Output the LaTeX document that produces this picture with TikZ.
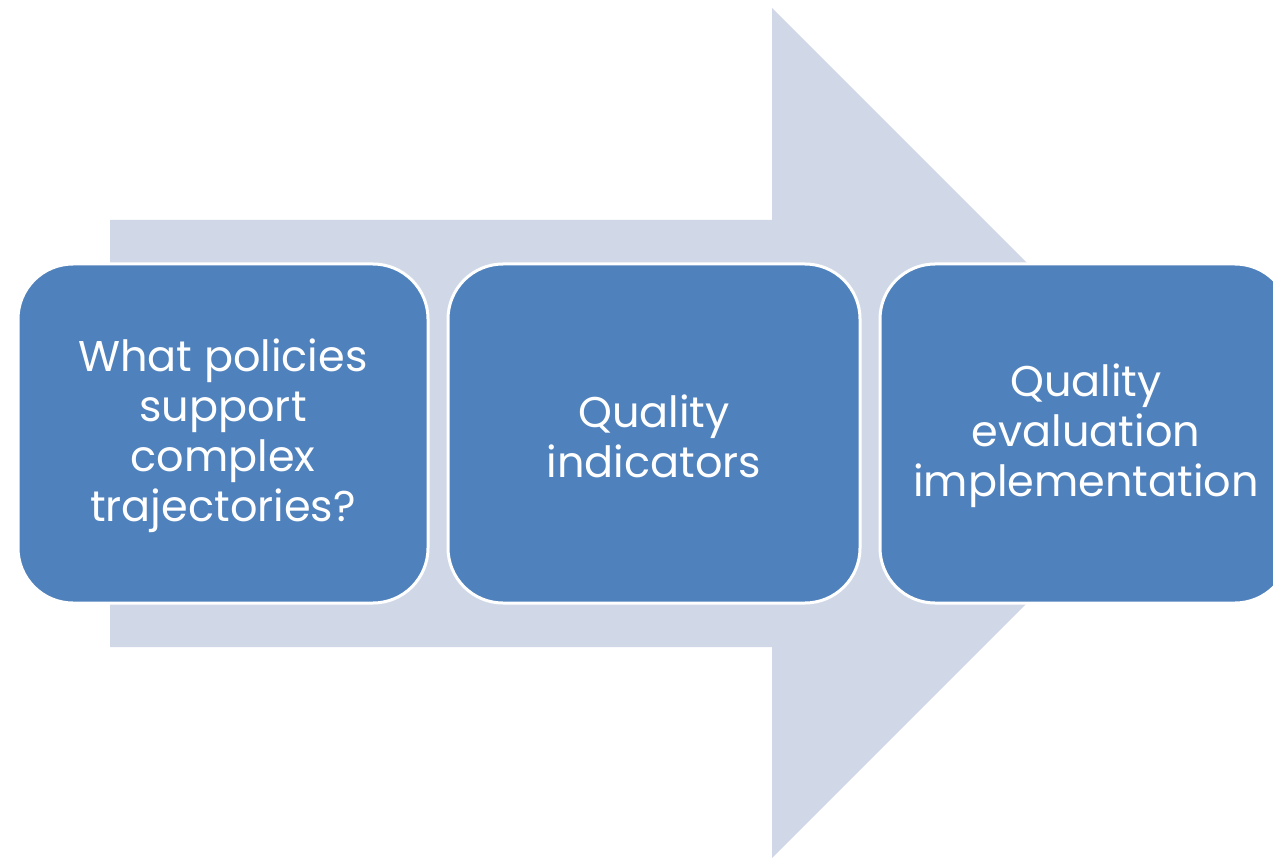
\documentclass[tikz,border=0pt]{standalone}
\usepackage{fontspec}
\setmainfont{Poppins}
\definecolor{arrowfill}{RGB}{208,216,232}
\definecolor{boxfill}{RGB}{79,129,189}
\tikzset{
  stepbox/.style={draw=white, line width=3pt, fill=boxfill, rounded corners=55pt},
  steptext/.style={text=white, align=center, font=\fontsize{43}{50}\selectfont},
}
\begin{document}
\begin{tikzpicture}[x=1pt,y=-1pt]
\useasboundingbox (0,0) rectangle (1273,858);
\fill[arrowfill] (110,220) -- (772,220) -- (772,8) -- (1197,433) -- (772,858) -- (772,647) -- (110,647) -- cycle;
\draw[stepbox] (18,264) rectangle (428,603);
\draw[stepbox] (448,264) rectangle (860,603);
\draw[stepbox] (880,264) rectangle (1290,603);
\node[steptext] (t1) at (223,436) {What policies\\support\\complex\\trajectories?};
\node[steptext] (t2) at (654,436) {Quality\\indicators};
\node[steptext] (t3) at (1086,436) {Quality\\evaluation\\implementation};
\end{tikzpicture}
\end{document}
